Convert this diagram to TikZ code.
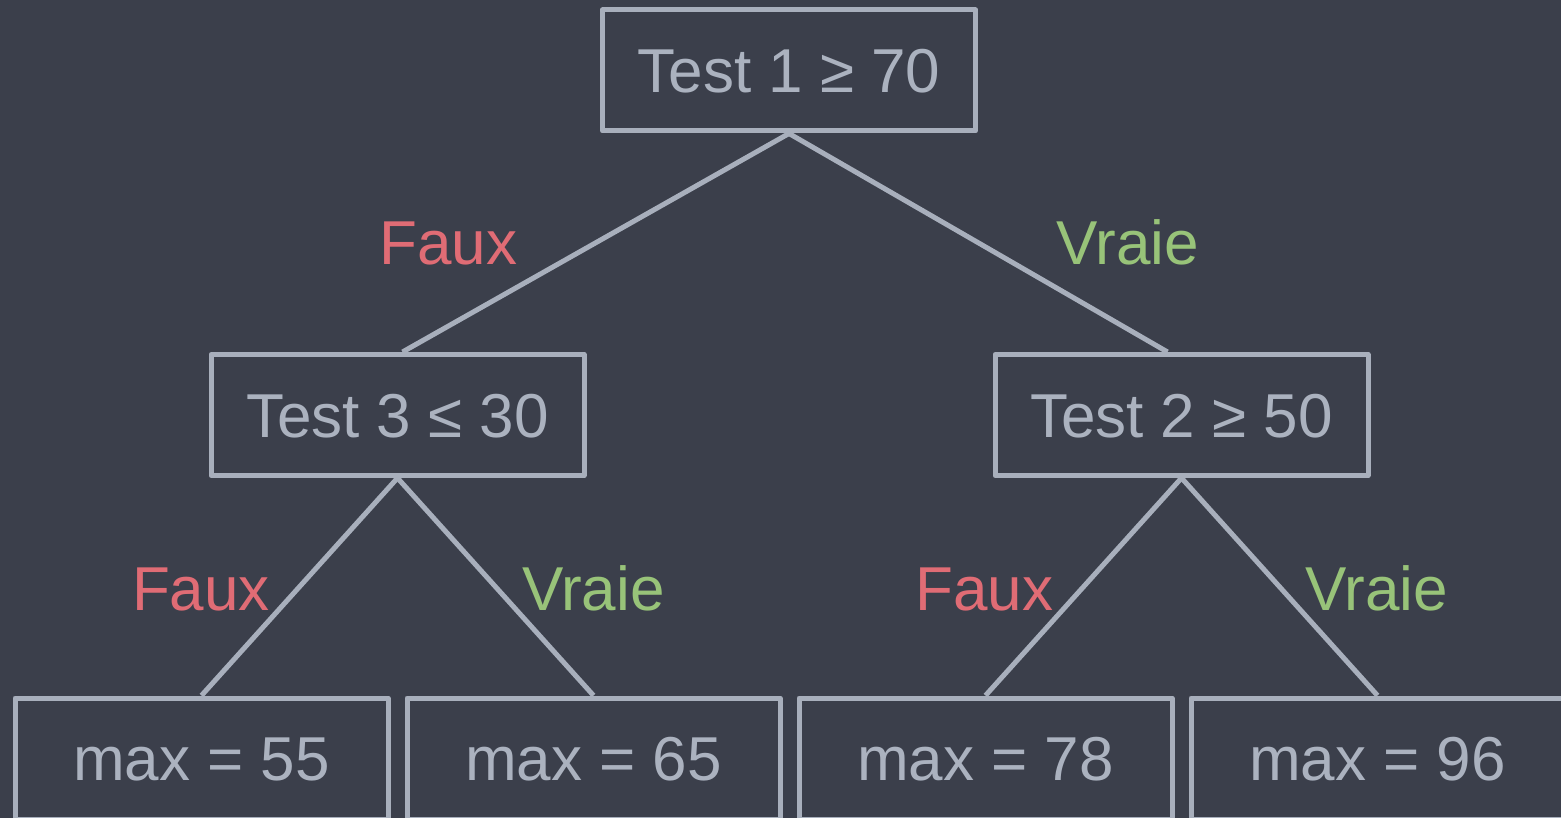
\documentclass[tikz,border=0pt]{standalone}
\usepackage{fontspec}
\setmainfont{Liberation Sans}
\definecolor{bgc}{HTML}{3B3F4B}
\definecolor{linec}{HTML}{A8AFBC}
\definecolor{txtc}{HTML}{ABB2BF}
\definecolor{falsec}{HTML}{E06C75}
\definecolor{truec}{HTML}{98C379}
\tikzset{
  testbox/.style={draw=linec, line width=5pt, line join=round, minimum width=373pt,
    minimum height=121pt, inner sep=0pt, text=txtc, font=\fontsize{62}{70}\selectfont,
    text height=44pt, text depth=0pt},
  edge/.style={draw=linec, line width=5pt},
  nolab/.style={text=falsec, font=\fontsize{62}{70}\selectfont, inner sep=0pt,
    text height=44pt, text depth=0pt},
  yeslab/.style={nolab, text=truec},
}
\begin{document}
\begin{tikzpicture}[x=1pt, y=-1pt]
  \fill[bgc] (0,0) rectangle (1561,818);
  \useasboundingbox (0,0) rectangle (1561,818);

  % decision nodes
  \node[testbox] (root) at (789,70.5) {Test 1 ≥ 70};
  \node[testbox] (left) at (397.5,415) {Test 3 ≤ 30};
  \node[testbox] (right) at (1181.5,415) {Test 2 ≥ 50};

  % leaves (run off the lower edge)
  \node[testbox] (ll) at (201.5,758.5) {max = 55};
  \node[testbox] (lr) at (593.5,758.5) {max = 65};
  \node[testbox] (rl) at (985.5,758.5) {max = 78};
  \node[testbox] (rr) at (1377.5,758.5) {max = 96};

  % branches
  \draw[edge] (root.south) -- ([xshift=5pt]left.north);
  \draw[edge] (root.south) -- ([xshift=-14pt]right.north);
  \draw[edge] (left.south) -- (ll.north);
  \draw[edge] (left.south) -- (lr.north);
  \draw[edge] (right.south) -- (rl.north);
  \draw[edge] (right.south) -- (rr.north);

  % branch labels
  \node[nolab] (f1) at (448.5,243) {Faux};
  \node[yeslab] (v1) at (1128,243) {Vraie};
  \node[nolab] (f2) at (201,588) {Faux};
  \node[yeslab] (v2) at (593.5,588) {Vraie};
  \node[nolab] (f3) at (984.5,588) {Faux};
  \node[yeslab] (v3) at (1377,588) {Vraie};
\end{tikzpicture}
\end{document}
